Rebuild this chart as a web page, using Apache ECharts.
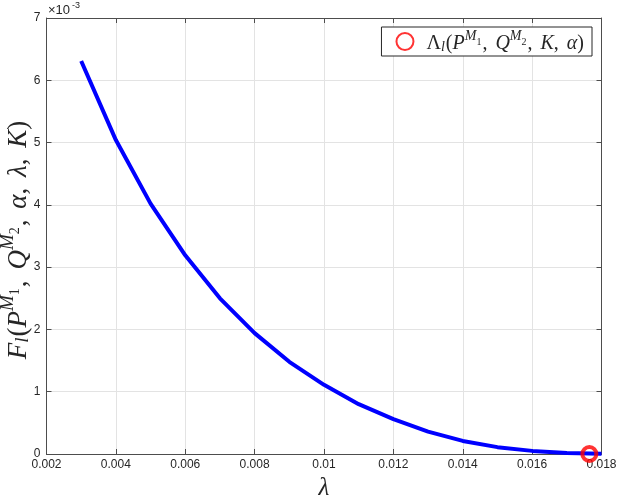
<!DOCTYPE html>
<html>
<head>
<meta charset="utf-8">
<script src="https://cdn.jsdelivr.net/npm/echarts@6/dist/echarts.min.js"></script>
<style>html,body{margin:0;padding:0;background:#fff}#c{width:618px;height:500px}</style>
</head>
<body>
<div id="c"></div>
<script>
// lambda values
const lambdas = [0.003, 0.004, 0.005, 0.006, 0.007, 0.008, 0.009, 0.010, 0.011, 0.012, 0.013, 0.014, 0.015, 0.016, 0.017, 0.018];
// F values in units of 1e-3
const fValues = [6.31, 5.04, 4.02, 3.19, 2.50, 1.94, 1.48, 1.11, 0.80, 0.56, 0.36, 0.21, 0.11, 0.05, 0.015, 0.004];
// marker point
const markerLambda = [0.01765];
const markerValue = [0.0];
const xTicks = [0.002, 0.004, 0.006, 0.008, 0.01, 0.012, 0.014, 0.016, 0.018];
const yTicks = [0, 1, 2, 3, 4, 5, 6, 7];

const serif = '"Liberation Serif","DejaVu Serif",serif';
const sans = '"Liberation Sans",Arial,sans-serif';
const axisCol = '#4d4d4d';
const textCol = '#262626';

function richSet(base) {
  const lh = Math.round(base * 1.25);
  const mk = (o) => Object.assign({color: textCol, fill: textCol, fontFamily: serif, lineHeight: lh}, o);
  return {
    it: mk({fontStyle: 'italic', fontSize: base, verticalAlign: 'bottom'}),
    n: mk({fontSize: base, verticalAlign: 'bottom'}),
    c: mk({fontSize: base, verticalAlign: 'bottom', padding: [0, base*0.15, 0, 0]}),
    gr: mk({fontStyle: 'italic', fontSize: base, verticalAlign: 'bottom'}),
    sub: mk({fontStyle: 'italic', fontSize: Math.round(base*0.7), verticalAlign: 'bottom', padding: [0,1,0,0]}),
    sup: mk({fontStyle: 'italic', fontSize: Math.round(base*0.7), verticalAlign: 'top'}),
    ss: mk({fontSize: Math.round(base*0.5), verticalAlign: 'top', padding: [Math.round(base*0.38),1,0,0]})
  };
}

const yName = '{it|F}{sub|l}{n|(}{it|P}{sup|M}{ss|1}{c|, }{it|Q}{sup|M}{ss|2}{c|, }{gr|α}{c|, }{gr|λ}{c|, }{it|K}{n|)}';
const xName = '{gr|λ}';
const legendText = '{n|Λ}{sub|l}{n|(}{it|P}{sup|M}{ss|1}{c|, }{it|Q}{sup|M}{ss|2}{c|, }{it|K}{c|, }{gr|α}{n|)}';

const chart = echarts.init(document.getElementById('c'), null, {renderer: 'canvas'});
const gridLine = {show: true, lineStyle: {color: '#e3e3e3', width: 1}};
chart.setOption({
  animation: false,
  backgroundColor: '#fff',
  grid: {left: 46.5, right: 16.5, top: 18, bottom: 46, containLabel: false, outerBoundsMode: 'none'},
  xAxis: [{
    type: 'value', min: 0.002, max: 0.018, interval: 0.002,
    axisLine: {show: true, onZero: false, lineStyle: {color: axisCol, width: 1}},
    axisTick: {show: true, inside: true, length: 5, lineStyle: {color: axisCol}},
    axisLabel: {color: textCol, fontFamily: sans, fontSize: 12, margin: 5, formatter: v => String(+v.toFixed(3))},
    splitLine: gridLine
  }, {
    type: 'value', position: 'top', min: 0.002, max: 0.018, interval: 0.002,
    axisLine: {show: true, onZero: false, lineStyle: {color: axisCol, width: 1}},
    axisTick: {show: true, inside: true, length: 5, lineStyle: {color: axisCol}},
    axisLabel: {show: false}, splitLine: {show: false}
  }],
  yAxis: [{
    type: 'value', min: 0, max: 7, interval: 1,
    axisLine: {show: true, onZero: false, lineStyle: {color: axisCol, width: 1}},
    axisTick: {show: true, inside: true, length: 5, lineStyle: {color: axisCol}},
    axisLabel: {color: textCol, fontFamily: sans, fontSize: 12, margin: 6, formatter: v => String(v)},
    splitLine: gridLine
  }, {
    type: 'value', position: 'right', min: 0, max: 7, interval: 1,
    axisLine: {show: true, onZero: false, lineStyle: {color: axisCol, width: 1}},
    axisTick: {show: true, inside: true, length: 5, lineStyle: {color: axisCol}},
    axisLabel: {show: false}, splitLine: {show: false}
  }],
  legend: {
    data: ['marker'],
    right: 26, top: 27,
    orient: 'vertical',
    backgroundColor: '#fff',
    borderColor: '#262626', borderWidth: 1, borderRadius: 0,
    padding: [2, 8, 2, 14],
    itemWidth: 17, itemHeight: 17, itemGap: 0,
    formatter: () => legendText,
    textStyle: {rich: richSet(20), padding: [0, 0, 0, 8]}
  },
  graphic: [{
    type: 'text', left: 48, top: 1,
    style: {
      text: '{a|×10}{b|-3}',
      rich: {
        a: {fontFamily: sans, fontSize: 13, fill: textCol, verticalAlign: 'bottom', lineHeight: 16},
        b: {fontFamily: sans, fontSize: 9, fill: textCol, verticalAlign: 'top', lineHeight: 16, padding: [0,0,0,2]}
      }
    }
  }, {
    type: 'text', x: 15, y: 240, rotation: Math.PI / 2,
    style: {text: yName, rich: richSet(27), align: 'center', verticalAlign: 'middle'}
  }, {
    type: 'text', x: 324, y: 485,
    style: {text: xName, rich: richSet(25), align: 'center', verticalAlign: 'middle'}
  }],
  series: [{
    name: 'curve', type: 'line',
    data: lambdas.map((x, i) => [x, fValues[i]]),
    showSymbol: false, symbol: 'none',
    lineStyle: {color: '#0000ff', width: 4},
    itemStyle: {color: '#0000ff'},
    z: 2
  }, {
    name: 'marker', type: 'scatter',
    data: markerLambda.map((x, i) => [x, markerValue[i]]),
    symbol: 'circle', symbolSize: 14,
    itemStyle: {color: 'rgba(255,255,255,0)', borderColor: '#ff0000', borderWidth: 4},
    z: 3
  }]
});
</script>
</body>
</html>
